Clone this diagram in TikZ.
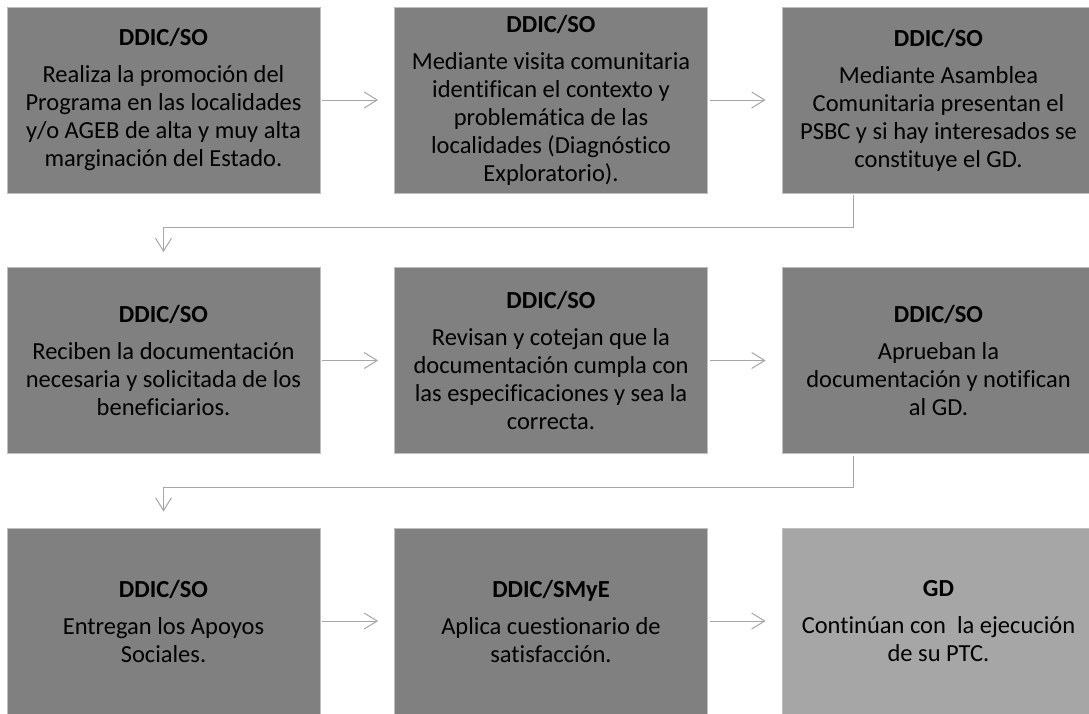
\documentclass[tikz,border=0pt]{standalone}
\usepackage{fontspec}
\setmainfont[Ligatures=NoCommon]{Carlito}
\usetikzlibrary{arrows.meta}

\begin{document}
\begin{tikzpicture}[x=1pt, y=-1pt,
	stepbox/.style={rectangle, fill=black!50, draw=black!25, line width=0.8pt, minimum width=313pt, minimum height=186pt, inner sep=0pt, align=center, font=\fontsize{24.5}{28}\selectfont},
	lastbox/.style={stepbox, fill=black!35},
	conn/.style={draw=black!35, line width=1pt, -{Straight Barb[length=13pt, width=16pt]}}]

	\clip (0,0) rectangle (1089,713);
	\fill[white] (0,0) rectangle (1089,713);

	% first row
	\node[stepbox] (b1) at (163.5,100) {\textbf{DDIC/SO}\\[9pt] Realiza la promoción del\\ Programa en las localidades\\ y/o AGEB de alta y muy alta\\ marginación del Estado.};
	\node[stepbox] (b2) at (551,100) {\textbf{DDIC/SO}\\[9pt] Mediante visita comunitaria\\ identifican el contexto y\\ problemática de las\\ localidades (Diagnóstico\\ Exploratorio).};
	\node[stepbox] (b3) at (938.5,100) {\textbf{DDIC/SO}\\[9pt] Mediante Asamblea\\ Comunitaria presentan el\\ PSBC y si hay interesados se\\ constituye el GD.};

	% second row
	\node[stepbox] (b4) at (163.5,360.5) {\textbf{DDIC/SO}\\[9pt] Reciben la documentación\\ necesaria y solicitada de los\\ beneficiarios.};
	\node[stepbox] (b5) at (551,360.5) {\textbf{DDIC/SO}\\[9pt] Revisan y cotejan que la\\ documentación cumpla con\\ las especificaciones y sea la\\ correcta.};
	\node[stepbox] (b6) at (938.5,360.5) {\textbf{DDIC/SO}\\[9pt] Aprueban la\\ documentación y notifican\\ al GD.};

	% third row
	\node[stepbox] (b7) at (163.5,621) {\textbf{DDIC/SO}\\[9pt] Entregan los Apoyos\\ Sociales.};
	\node[stepbox] (b8) at (551,621) {\textbf{DDIC/SMyE}\\[9pt] Aplica cuestionario de\\ satisfacción.};
	\node[lastbox] (b9) at (938.5,621) {\textbf{GD}\\[9pt] Continúan con~ la ejecución\\ de su PTC.};

	% arrows inside the rows
	\draw[conn] ([xshift=2pt]b1.east) -- ([xshift=-16pt]b2.west);
	\draw[conn] ([xshift=2pt]b2.east) -- ([xshift=-16pt]b3.west);
	\draw[conn] ([xshift=2pt]b4.east) -- ([xshift=-16pt]b5.west);
	\draw[conn] ([xshift=2pt]b5.east) -- ([xshift=-16pt]b6.west);
	\draw[conn] ([xshift=2pt]b7.east) -- ([xshift=-16pt]b8.west);
	\draw[conn] ([xshift=2pt]b8.east) -- ([xshift=-16pt]b9.west);

	% elbow arrows to the next row
	\draw[conn] ([xshift=72pt,yshift=-2pt]b3.south west) -- ++(0,32) -| ([yshift=15pt]b4.north);
	\draw[conn] ([xshift=72pt,yshift=-2pt]b6.south west) -- ++(0,32) -| ([yshift=16pt]b7.north);

\end{tikzpicture}
\end{document}
